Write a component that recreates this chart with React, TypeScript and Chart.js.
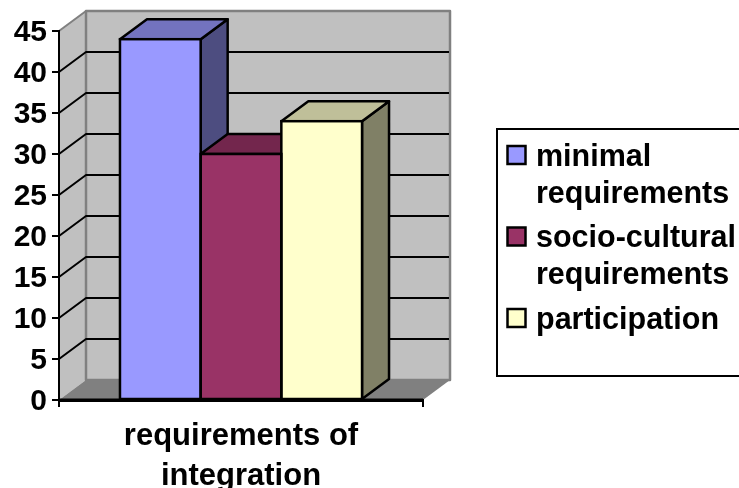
import React, { useEffect, useRef } from "react";
import { Chart, registerables } from "chart.js";

Chart.register(...registerables);

const categories = [["requirements of", "integration"]];
const seriesNames = ["minimal requirements", "socio-cultural requirements", "participation"];
const legendLines = [["minimal", "requirements"], ["socio-cultural", "requirements"], ["participation"]];
const minimalValues = [44];
const socioCulturalValues = [30];
const participationValues = [34];
const frontColors = ["#9999FF", "#993366", "#FFFFCC"];
const topColors = ["#7373BF", "#73264D", "#BFBF99"];
const sideColors = ["#4D4D80", "#4D1A33", "#808066"];

const FONT = '"Liberation Sans", Arial, sans-serif';
const DEPTH_X = 27;
const DEPTH_Y = 20;

type Pt = [number, number];

function poly(ctx: CanvasRenderingContext2D, pts: Pt[], fill: string | null, stroke: string | null, lw = 2) {
  ctx.beginPath();
  pts.forEach(([x, y], i) => (i ? ctx.lineTo(x, y) : ctx.moveTo(x, y)));
  ctx.closePath();
  if (fill) {
    ctx.fillStyle = fill;
    ctx.fill();
  }
  if (stroke) {
    ctx.strokeStyle = stroke;
    ctx.lineWidth = lw;
    ctx.lineJoin = "round";
    ctx.stroke();
  }
}

// Walls, floor and receding gridlines of the 3-D box behind the plot.
const wallsPlugin = {
  id: "walls",
  beforeDraw(chart: any) {
    const { ctx, chartArea: a, scales } = chart;
    const y = scales.y;
    const gray = "#808080";
    ctx.save();
    poly(ctx, [[a.left, a.top], [a.left + DEPTH_X, a.top - DEPTH_Y], [a.left + DEPTH_X, a.bottom - DEPTH_Y], [a.left, a.bottom]], "#C0C0C0", null);
    poly(ctx, [[a.left + DEPTH_X, a.top - DEPTH_Y], [a.right + DEPTH_X, a.top - DEPTH_Y], [a.right + DEPTH_X, a.bottom - DEPTH_Y], [a.left + DEPTH_X, a.bottom - DEPTH_Y]], "#C0C0C0", gray, 2.5);
    poly(ctx, [[a.left, a.bottom], [a.left + DEPTH_X, a.bottom - DEPTH_Y], [a.right + DEPTH_X, a.bottom - DEPTH_Y], [a.right, a.bottom]], gray, null);
    ctx.strokeStyle = gray;
    ctx.lineWidth = 2;
    ctx.beginPath();
    ctx.moveTo(a.left, a.top);
    ctx.lineTo(a.left + DEPTH_X, a.top - DEPTH_Y);
    ctx.stroke();
    ctx.strokeStyle = "#000";
    ctx.lineWidth = 2;
    y.ticks.forEach((t: any) => {
      if (t.value === y.min || t.value === y.max) return;
      const py = y.getPixelForValue(t.value);
      ctx.beginPath();
      ctx.moveTo(a.left, py);
      ctx.lineTo(a.left + DEPTH_X, py - DEPTH_Y);
      ctx.lineTo(a.right + DEPTH_X - 1, py - DEPTH_Y);
      ctx.stroke();
    });
    ctx.restore();
  },
  // Side and top faces, painted left to right so nearer bars cover farther ones.
  beforeDatasetsDraw(chart: any) {
    const { ctx } = chart;
    ctx.save();
    chart.data.datasets.forEach((_: any, i: number) => {
      const bar = chart.getDatasetMeta(i).data[0];
      const l = bar.x - bar.width / 2;
      const r = bar.x + bar.width / 2;
      const t = bar.y;
      const b = bar.base;
      poly(ctx, [[r, t], [r + DEPTH_X, t - DEPTH_Y], [r + DEPTH_X, b - DEPTH_Y], [r, b]], sideColors[i], "#000", 2.5);
      poly(ctx, [[l, t], [l + DEPTH_X, t - DEPTH_Y], [r + DEPTH_X, t - DEPTH_Y], [r, t]], topColors[i], "#000", 2.5);
    });
    ctx.restore();
  },
  // Front outlines share their edges, so they are stroked once over the fills.
  afterDatasetsDraw(chart: any) {
    const { ctx } = chart;
    ctx.save();
    ctx.strokeStyle = "#000";
    ctx.lineWidth = 2.5;
    chart.data.datasets.forEach((_: any, i: number) => {
      const bar = chart.getDatasetMeta(i).data[0];
      ctx.strokeRect(bar.x - bar.width / 2, bar.y, bar.width, bar.base - bar.y);
    });
    ctx.beginPath();
    ctx.moveTo(chart.chartArea.left, chart.chartArea.bottom);
    ctx.lineTo(chart.chartArea.right, chart.chartArea.bottom);
    ctx.lineWidth = 3;
    ctx.stroke();
    ctx.restore();
  },
};

// Boxed legend to the right of the plot with wrapped series names.
const boxedLegendPlugin = {
  id: "boxedLegend",
  afterDraw(chart: any) {
    const { ctx } = chart;
    ctx.save();
    ctx.strokeStyle = "#000";
    ctx.lineWidth = 2;
    ctx.strokeRect(497, 129, 260, 247);
    ctx.font = `bold 30.5px ${FONT}`;
    ctx.textBaseline = "alphabetic";
    ctx.textAlign = "left";
    const baselines = [165.5, 247, 328.5];
    const lineGap = 37;
    chart.data.datasets.forEach((ds: any, i: number) => {
      const base = baselines[i];
      ctx.fillStyle = frontColors[i];
      ctx.fillRect(507.5, base - 19.5, 18, 18);
      ctx.strokeStyle = "#000";
      ctx.lineWidth = 2.5;
      ctx.strokeRect(507.5, base - 19.5, 18, 18);
      ctx.fillStyle = "#000";
      legendLines[i].forEach((line, k) => ctx.fillText(line, 536, base + k * lineGap));
    });
    ctx.restore();
  },
};

export default function App() {
  const ref = useRef<HTMLCanvasElement>(null);
  useEffect(() => {
    const values = [minimalValues, socioCulturalValues, participationValues];
    const chart = new Chart(ref.current!, {
      type: "bar",
      data: {
        labels: categories as any,
        datasets: seriesNames.map((label, i) => ({
          label,
          data: values[i],
          backgroundColor: frontColors[i],
          borderWidth: 0,
          categoryPercentage: 0.665,
          barPercentage: 1,
        })),
      },
      options: {
        responsive: false,
        animation: false,
        layout: { padding: { top: 31, right: 316, bottom: 0, left: 0 } },
        plugins: { legend: { display: false }, tooltip: { enabled: false } },
        scales: {
          x: {
            grid: { offset: true, drawOnChartArea: false, color: "#000", lineWidth: 2, tickLength: 7 },
            border: { color: "#000", width: 3 },
            ticks: {
              color: "#000",
              maxRotation: 0,
              padding: 9,
              font: { family: FONT, weight: "bold", size: 31, lineHeight: 1.29 },
            },
            afterFit: (s: any) => { s.height = 88; },
          },
          y: {
            min: 0,
            max: 45,
            grid: { drawOnChartArea: false, color: "#000", lineWidth: 2, tickLength: 7 },
            border: { color: "#000", width: 2 },
            ticks: {
              stepSize: 5,
              color: "#000",
              padding: 5,
              labelOffset: 1.5,
              font: { family: FONT, weight: "bold", size: 30 },
            },
            afterFit: (s: any) => { s.width = 59; },
          },
        },
      },
      plugins: [wallsPlugin, boxedLegendPlugin],
    } as any);
    return () => chart.destroy();
  }, []);
  return (
    <canvas
      ref={ref}
      width={739}
      height={488}
      style={{ position: "fixed", left: 0, top: 0, width: 739, height: 488, display: "block" }}
    />
  );
}
